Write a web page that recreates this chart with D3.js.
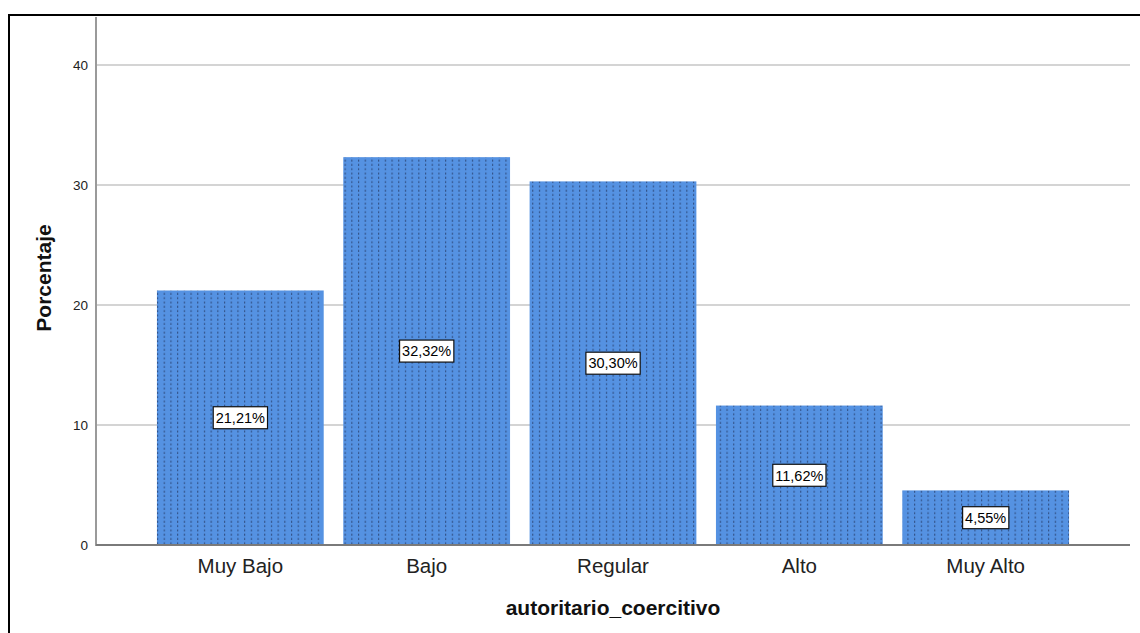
<!DOCTYPE html>
<html>
<head>
<meta charset="utf-8">
<script src="https://cdn.jsdelivr.net/npm/d3@7"></script>
<style>
  html, body { margin: 0; padding: 0; background: #fff; }
  svg { display: block; font-family: "Liberation Sans", Arial, sans-serif; }
</style>
</head>
<body>
<svg id="chart" width="1140" height="633"></svg>
<script>
// Frequency distribution of the "autoritario_coercitivo" variable
const categories = ["Muy Bajo", "Bajo", "Regular", "Alto", "Muy Alto"];
const percentages = [21.21, 32.32, 30.30, 11.62, 4.55];
const yTicks = [0, 10, 20, 30, 40];

const svg = d3.select("#chart");
const W = 1140, H = 633;
const plot = { left: 96, right: 1130, top: 17, bottom: 545 };

// Outer frame (top and left edges)
svg.append("path")
  .attr("d", `M9,${H} L9,15 L${W},15`)
  .attr("fill", "none").attr("stroke", "#000").attr("stroke-width", 2);

// Dotted-column fill for the bars
const defs = svg.append("defs");
const pat = defs.append("pattern")
  .attr("id", "dots").attr("patternUnits", "userSpaceOnUse")
  .attr("width", 6.7).attr("height", 4.3);
pat.append("rect").attr("width", 6.7).attr("height", 4.3).attr("fill", "#5592e2");
pat.append("rect").attr("x", 3).attr("y", 0.5).attr("width", 1).attr("height", 2)
  .attr("fill", "#243a66").attr("opacity", 0.85);

const x = d3.scaleBand()
  .domain(categories)
  .range([plot.left, plot.right])
  .paddingInner(0.105)
  .paddingOuter(0.327);

const y = d3.scaleLinear().domain([0, 44]).range([plot.bottom, plot.bottom - 44 * 12]);

// Horizontal gridlines
svg.append("g").selectAll("line")
  .data(yTicks.filter(d => d > 0))
  .join("line")
  .attr("x1", plot.left).attr("x2", plot.right)
  .attr("y1", d => y(d)).attr("y2", d => y(d))
  .attr("stroke", "#d4d4d4").attr("stroke-width", 2);

// Bars
svg.append("g").selectAll("rect")
  .data(percentages)
  .join("rect")
  .attr("x", (d, i) => x(categories[i]))
  .attr("y", d => y(d))
  .attr("width", x.bandwidth())
  .attr("height", d => y(0) - y(d))
  .attr("fill", "url(#dots)");

// Y axis
const yAxis = svg.append("g")
  .attr("transform", `translate(${plot.left},0)`)
  .call(d3.axisLeft(y).tickValues(yTicks).tickSize(0).tickPadding(8));
yAxis.select(".domain").remove();
yAxis.selectAll("text").attr("font-size", 13.5).attr("fill", "#222")
  .attr("font-family", "Liberation Sans, Arial, sans-serif");
svg.append("line")
  .attr("x1", plot.left).attr("x2", plot.left)
  .attr("y1", plot.top).attr("y2", plot.bottom + 1)
  .attr("stroke", "#9a9a9a").attr("stroke-width", 2);

// X axis
const xAxis = svg.append("g")
  .attr("transform", `translate(0,${plot.bottom})`)
  .call(d3.axisBottom(x).tickSize(0).tickPadding(13));
xAxis.select(".domain").remove();
xAxis.selectAll("text").attr("font-size", 20.5).attr("fill", "#222")
  .attr("font-family", "Liberation Sans, Arial, sans-serif");
svg.append("line")
  .attr("x1", plot.left).attr("x2", plot.right)
  .attr("y1", plot.bottom).attr("y2", plot.bottom)
  .attr("stroke", "#7a7a7a").attr("stroke-width", 2);

// Value labels centred in each bar
const fmt = v => v.toFixed(2).replace(".", ",") + "%";
const labels = svg.append("g").selectAll("g")
  .data(percentages)
  .join("g")
  .attr("transform", (d, i) =>
    `translate(${x(categories[i]) + x.bandwidth() / 2},${(y(d) + y(0)) / 2})`);
labels.append("rect")
  .attr("fill", "#fff").attr("stroke", "#111").attr("stroke-width", 1.2);
labels.append("text")
  .attr("text-anchor", "middle").attr("dy", "0.36em")
  .attr("font-size", 14.5).attr("fill", "#000")
  .text(fmt);
labels.each(function () {
  const g = d3.select(this);
  const b = g.select("text").node().getBBox();
  g.select("rect")
    .attr("x", b.x - 2.5).attr("y", -11)
    .attr("width", b.width + 5).attr("height", 22);
});

// Axis titles
svg.append("text")
  .attr("x", 613).attr("y", 615)
  .attr("text-anchor", "middle").attr("font-size", 21).attr("font-weight", "bold")
  .attr("fill", "#111").text("autoritario_coercitivo");
svg.append("text")
  .attr("transform", `translate(51,278) rotate(-90)`)
  .attr("text-anchor", "middle").attr("font-size", 21).attr("font-weight", "bold")
  .attr("fill", "#111").text("Porcentaje");
</script>
</body>
</html>
